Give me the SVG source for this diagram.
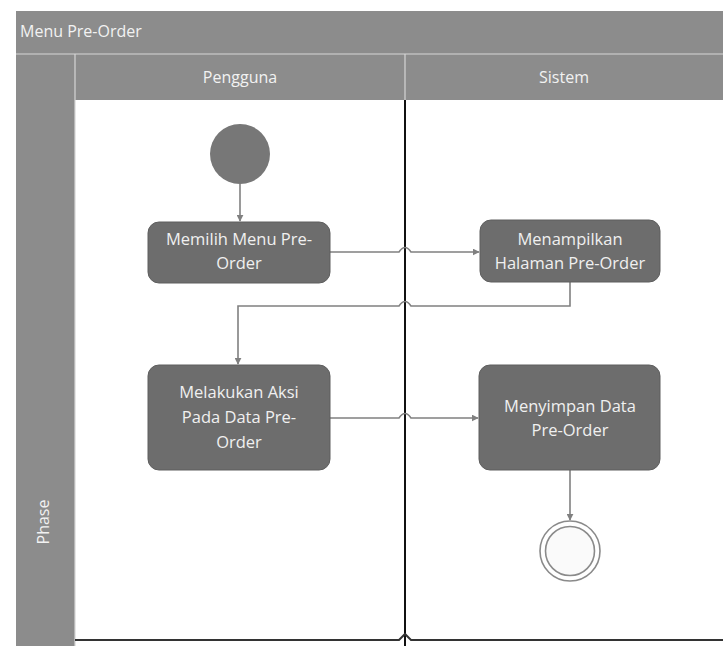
<svg xmlns="http://www.w3.org/2000/svg" width="723" height="646" viewBox="0 0 723 646">
  <style>
    .band { fill: #8c8c8c; }
    .sep { stroke: #d6d6d6; stroke-width: 1.2; fill: none; }
    .hdr { font-family: "Open Sans", "Noto Sans", sans-serif; font-size: 16px; fill: #f2f2f2; }
    .node rect { fill: #6d6d6d; stroke: #5e5e5e; stroke-width: 1; }
    .node text { font-family: "Open Sans", "Noto Sans", sans-serif; font-size: 16.5px; fill: #f0f0f0; text-anchor: middle; }
    .conn { stroke: #808080; stroke-width: 1.6; fill: none; }
  </style>
  <defs>
    <marker id="arrow" viewBox="0 0 10 10" refX="9" refY="5" markerWidth="7" markerHeight="7" markerUnits="userSpaceOnUse" orient="auto">
      <path d="M0,0 L10,5 L0,10 z" fill="#808080"/>
    </marker>
  </defs>

  <rect width="723" height="646" fill="#ffffff"/>

  <!-- swimlane frame -->
  <g id="pool">
    <rect class="band" x="16" y="11" width="720" height="43"/>
    <rect class="band" x="16" y="54" width="720" height="46"/>
    <rect class="band" x="16" y="54" width="59" height="600"/>
    <rect x="75" y="100" width="660" height="550" fill="#ffffff"/>
    <line class="sep" x1="16" y1="54" x2="723" y2="54"/>
    <line class="sep" x1="75" y1="54" x2="75" y2="646"/>
    <line class="sep" x1="405" y1="54" x2="405" y2="100"/>
    <text class="hdr" x="20" y="37">Menu Pre-Order</text>
    <text class="hdr" x="240" y="83" text-anchor="middle">Pengguna</text>
    <text class="hdr" x="564" y="83" text-anchor="middle">Sistem</text>
    <text class="hdr" x="0" y="0" text-anchor="middle" transform="translate(49,522) rotate(-90)">Phase</text>
    <!-- lane divider and bottom boundary -->
    <line x1="405" y1="100" x2="405" y2="646" stroke="#111111" stroke-width="2"/>
    <path d="M75,640 H399 L405,634 L411,640 H723" stroke="#333333" stroke-width="2" fill="none"/>
  </g>

  <!-- connectors -->
  <g id="connectors">
    <line class="conn" x1="240" y1="184" x2="240" y2="221" marker-end="url(#arrow)"/>
    <path class="conn" d="M330,252 H399 Q405,243 411,252 H479" marker-end="url(#arrow)"/>
    <path class="conn" d="M570,282 V306 H411 Q405,297 399,306 H238 V364" marker-end="url(#arrow)"/>
    <path class="conn" d="M330,418 H399 Q405,409 411,418 H478" marker-end="url(#arrow)"/>
    <line class="conn" x1="570" y1="470" x2="570" y2="520" marker-end="url(#arrow)"/>
  </g>

  <g id="start">
    <circle cx="240" cy="154" r="30" fill="#777777"/>
  </g>

  <g id="memilih-menu" class="node">
    <rect x="148" y="222" width="182" height="61" rx="11"/>
    <text x="239" y="245">Memilih Menu Pre-</text>
    <text x="239" y="269">Order</text>
  </g>

  <g id="menampilkan-halaman" class="node">
    <rect x="480" y="220" width="180" height="62" rx="11"/>
    <text x="570" y="245">Menampilkan</text>
    <text x="570" y="269">Halaman Pre-Order</text>
  </g>

  <g id="melakukan-aksi" class="node">
    <rect x="148" y="365" width="182" height="105" rx="11"/>
    <text x="239" y="398">Melakukan Aksi</text>
    <text x="239" y="423">Pada Data Pre-</text>
    <text x="239" y="448">Order</text>
  </g>

  <g id="menyimpan-data" class="node">
    <rect x="479" y="365" width="181" height="105" rx="11"/>
    <text x="570" y="412">Menyimpan Data</text>
    <text x="570" y="436">Pre-Order</text>
  </g>

  <g id="end">
    <circle cx="570" cy="551" r="30" fill="#ffffff" stroke="#8a8a8a" stroke-width="1.6"/>
    <circle cx="570" cy="551" r="24.5" fill="#fafafa" stroke="#8a8a8a" stroke-width="1.6"/>
  </g>
</svg>
